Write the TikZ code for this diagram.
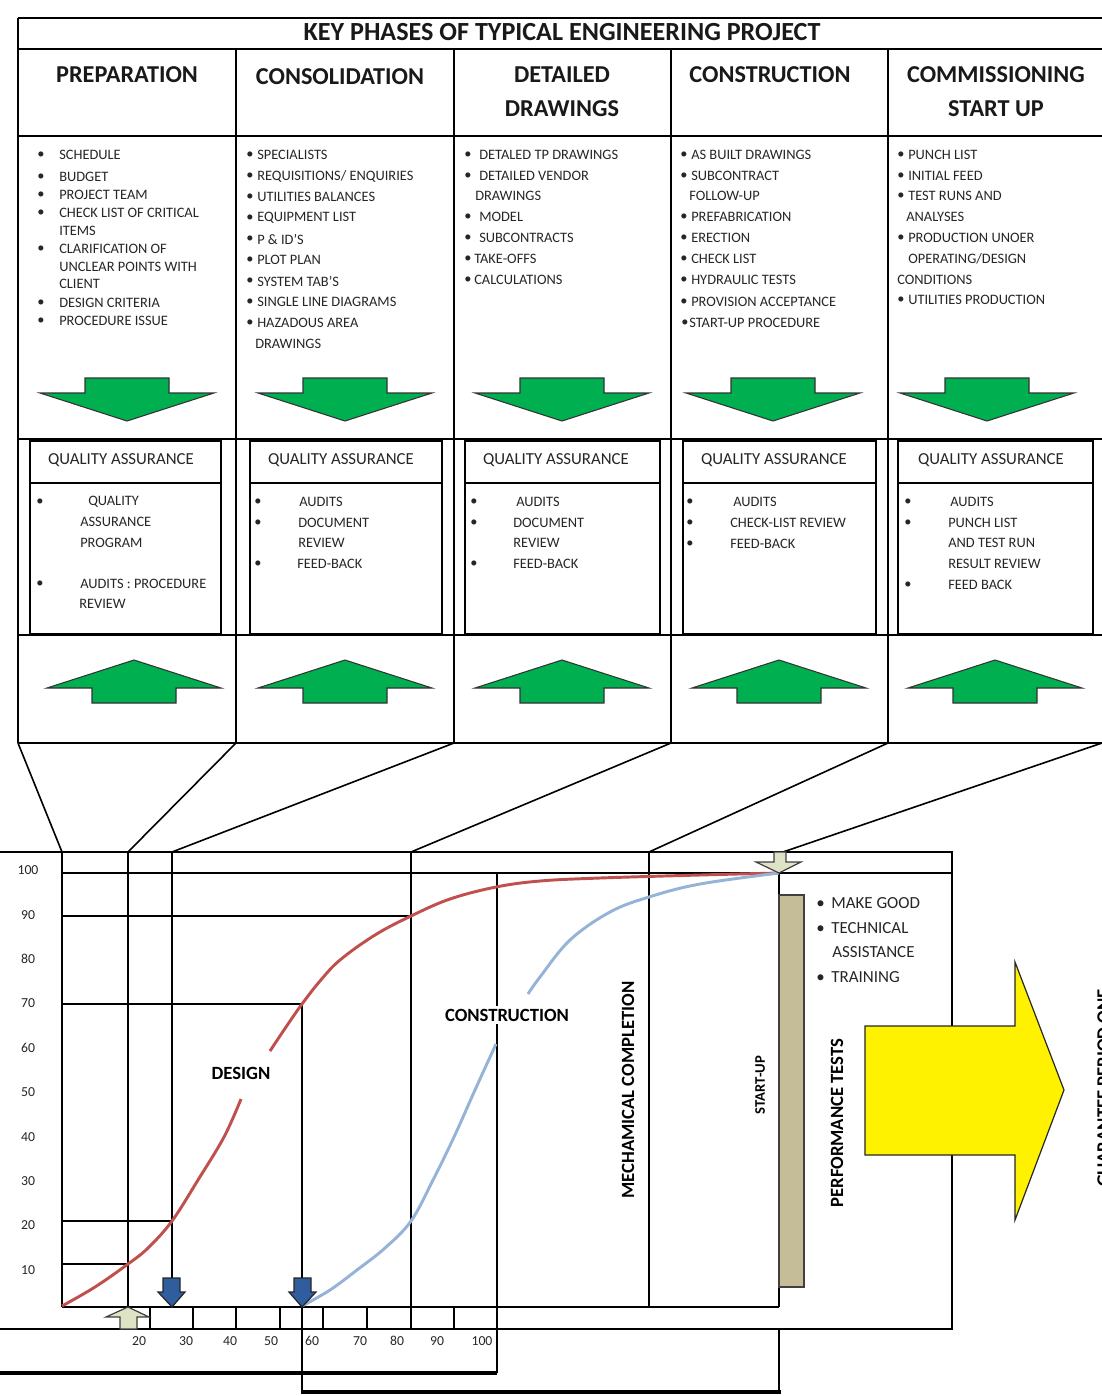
\documentclass[tikz,border=0pt]{standalone}
\usepackage{fontspec}
\setmainfont{Carlito}
\definecolor{arrgreen}{HTML}{00B050}
\definecolor{dred}{HTML}{C0504D}
\definecolor{lblue}{HTML}{95B3D7}
\definecolor{dblue}{HTML}{2F5D9E}
\definecolor{tan}{HTML}{C4BD97}
\definecolor{pale}{HTML}{DDE3C4}
\definecolor{txtc}{HTML}{262626}
\newcommand\fsz[1]{\fontsize{#1}{#1}\selectfont}
\tikzset{
  tl/.style={line width=1.5pt},
  il/.style={line width=1.2pt},
  cl/.style={line width=1pt},
  itm/.style={inner sep=0pt, anchor=west, text=txtc, font=\fsz{10.8}},
  qai/.style={inner sep=0pt, anchor=west, text=txtc, font=\fsz{10.8}},
  hdr/.style={inner sep=0pt, font=\bfseries\fsz{18.2}, text=black!90},
  qat/.style={inner sep=0pt, font=\fsz{12.6}, text=txtc},
  axl/.style={inner sep=0pt, font=\fsz{10.3}, text=txtc},
  vlab/.style={inner sep=0pt, rotate=90, font=\bfseries\fsz{14}},
  garr/.style={fill=arrgreen, draw=black!80, line width=0.8pt, line join=miter},
  barr/.style={fill=dblue, draw=black!85, line width=0.9pt},
  parr/.style={fill=pale, draw=black!75, line width=0.9pt},
  curvered/.style={draw=dred, line width=2.2pt},
  curveblue/.style={draw=lblue, line width=2.2pt},
}
\newcommand\Li[4]{\node[itm] (#1) at (#2,#3) {#4};}
\newcommand\Qi[4]{\node[qai] (#1) at (#2,#3) {#4};}
\newcommand\GDarr[1]{\draw[garr] (#1-42,378) -- (#1+42,378) -- (#1+42,393) -- (#1+87,393) -- (#1,421) -- (#1-87,393) -- (#1-42,393) -- cycle;}
\newcommand\GUarr[1]{\draw[garr] (#1-42,703) -- (#1+42,703) -- (#1+42,688) -- (#1+87,688) -- (#1,660) -- (#1-87,688) -- (#1-42,688) -- cycle;}
\begin{document}
\begin{tikzpicture}[x=0.75pt,y=-0.75pt]
\path[use as bounding box, fill=white] (0,0) rectangle (1102,1396);

% ---------------- table ----------------
\draw[tl] (18,18) -- (1102,18);
\draw[tl] (18,49) -- (1102,49);
\draw[tl] (18,136) -- (1102,136);
\draw[tl] (18,439) -- (1102,439);
\draw[tl] (18,635) -- (1102,635);
\draw[tl] (18,743) -- (1102,743);
\draw[tl] (18,18) -- (18,743);
\foreach \xx in {236,454,671,888} \draw[tl] (\xx,49) -- (\xx,743);

\node[inner sep=0pt, font=\bfseries\fsz{19.6}, text=black!90] (title) at (562,32) {KEY PHASES OF TYPICAL ENGINEERING PROJECT};
\node[hdr] (h1) at (127,75) {PREPARATION};
\node[hdr] (h2) at (340,77) {CONSOLIDATION};
\node[hdr] (h3a) at (562,75) {DETAILED};
\node[hdr] (h3b) at (562,109) {DRAWINGS};
\node[hdr] (h4) at (770,75) {CONSTRUCTION};
\node[hdr] (h5a) at (996,75) {COMMISSIONING};
\node[hdr] (h5b) at (996,109) {START UP};

% column 1
\Li{b11}{37}{155}{\textbullet}\Li{t11}{59}{155}{SCHEDULE}
\Li{b12}{37}{177}{\textbullet}\Li{t12}{59}{177}{BUDGET}
\Li{b13}{37}{195}{\textbullet}\Li{t13}{59}{195}{PROJECT TEAM}
\Li{b14}{37}{213}{\textbullet}\Li{t14}{59}{213}{CHECK LIST OF CRITICAL}
\Li{t14b}{59}{231}{ITEMS}
\Li{b15}{37}{249}{\textbullet}\Li{t15}{59}{249}{CLARIFICATION OF}
\Li{t15b}{59}{267}{UNCLEAR POINTS WITH}
\Li{t15c}{59}{284}{CLIENT}
\Li{b16}{37}{303}{\textbullet}\Li{t16}{59}{303}{DESIGN CRITERIA}
\Li{b17}{37}{321}{\textbullet}\Li{t17}{59}{321}{PROCEDURE ISSUE}
% column 2
\Li{b21}{246}{155}{\textbullet}\Li{t21}{257}{155}{SPECIALISTS}
\Li{b22}{246}{176}{\textbullet}\Li{t22}{257}{176}{REQUISITIONS/ ENQUIRIES}
\Li{b23}{246}{197}{\textbullet}\Li{t23}{257}{197}{UTILITIES BALANCES}
\Li{b24}{246}{218}{\textbullet}\Li{t24}{257}{218}{EQUIPMENT LIST}
\Li{b25}{246}{239}{\textbullet}\Li{t25}{257}{239}{P \& ID’S}
\Li{b26}{246}{260}{\textbullet}\Li{t26}{257}{260}{PLOT PLAN}
\Li{b27}{246}{281}{\textbullet}\Li{t27}{257}{281}{SYSTEM TAB’S}
\Li{b28}{246}{302}{\textbullet}\Li{t28}{257}{302}{SINGLE LINE DIAGRAMS}
\Li{b29}{246}{323}{\textbullet}\Li{t29}{257}{323}{HAZADOUS AREA}
\Li{t29b}{255}{344}{DRAWINGS}
% column 3
\Li{b31}{464}{155}{\textbullet}\Li{t31}{479}{155}{DETALED TP DRAWINGS}
\Li{b32}{464}{176}{\textbullet}\Li{t32}{479}{176}{DETAILED VENDOR}
\Li{t32b}{475}{196}{DRAWINGS}
\Li{b33}{464}{217}{\textbullet}\Li{t33}{479}{217}{MODEL}
\Li{b34}{464}{238}{\textbullet}\Li{t34}{479}{238}{SUBCONTRACTS}
\Li{b35}{464}{259}{\textbullet}\Li{t35}{474}{259}{TAKE-OFFS}
\Li{b36}{464}{280}{\textbullet}\Li{t36}{474}{280}{CALCULATIONS}
% column 4
\Li{b41}{680}{155}{\textbullet}\Li{t41}{691}{155}{AS BUILT DRAWINGS}
\Li{b42}{680}{176}{\textbullet}\Li{t42}{691}{176}{SUBCONTRACT}
\Li{t42b}{689}{196}{FOLLOW-UP}
\Li{b43}{680}{217}{\textbullet}\Li{t43}{691}{217}{PREFABRICATION}
\Li{b44}{680}{238}{\textbullet}\Li{t44}{691}{238}{ERECTION}
\Li{b45}{680}{259}{\textbullet}\Li{t45}{691}{259}{CHECK LIST}
\Li{b46}{680}{280}{\textbullet}\Li{t46}{691}{280}{HYDRAULIC  TESTS}
\Li{b47}{680}{302}{\textbullet}\Li{t47}{691}{302}{PROVISION  ACCEPTANCE}
\Li{b48}{681}{323}{\textbullet}\Li{t48}{689}{323}{START-UP PROCEDURE}
% column 5
\Li{b51}{897}{155}{\textbullet}\Li{t51}{908}{155}{PUNCH LIST}
\Li{b52}{897}{176}{\textbullet}\Li{t52}{908}{176}{INITIAL FEED}
\Li{b53}{897}{196}{\textbullet}\Li{t53}{908}{196}{TEST RUNS AND}
\Li{t53b}{906}{217}{ANALYSES}
\Li{b54}{897}{238}{\textbullet}\Li{t54}{908}{238}{PRODUCTION  UNOER}
\Li{t54b}{908}{259}{OPERATING/DESIGN}
\Li{t54c}{897}{280}{CONDITIONS}
\Li{b55}{897}{300}{\textbullet}\Li{t55}{908}{300}{UTILITIES PRODUCTION}

% green down arrows
\GDarr{127}\GDarr{345}\GDarr{562}\GDarr{773}\GDarr{987}

% QA boxes
\foreach \xa/\xb in {30/221,250/442,465/660,683/876,898/1093}{
  \draw[il] (\xa,441) rectangle (\xb,634);
  \draw[il] (\xa,483) -- (\xb,483);
}
\node[qat] (qa1) at (121,460) {QUALITY ASSURANCE};
\node[qat] (qa2) at (341,460) {QUALITY ASSURANCE};
\node[qat] (qa3) at (556,460) {QUALITY ASSURANCE};
\node[qat] (qa4) at (774,460) {QUALITY ASSURANCE};
\node[qat] (qa5) at (991,460) {QUALITY ASSURANCE};

\Qi{q11}{36}{502}{\textbullet}\Qi{q11t}{88}{502}{QUALITY}
\Qi{q11u}{80}{522}{ASSURANCE}\Qi{q11v}{80}{543}{PROGRAM}
\Qi{q12}{36}{584}{\textbullet}\Qi{q12t}{80}{584}{AUDITS : PROCEDURE}
\Qi{q12u}{79}{604}{REVIEW}

\Qi{q21}{254}{502}{\textbullet}\Qi{q21t}{299}{502}{AUDITS}
\Qi{q22}{254}{523}{\textbullet}\Qi{q22t}{298}{523}{DOCUMENT}
\Qi{q22u}{298}{543}{REVIEW}
\Qi{q23}{254}{564}{\textbullet}\Qi{q23t}{297}{564}{FEED-BACK}

\Qi{q31}{470}{502}{\textbullet}\Qi{q31t}{516}{502}{AUDITS}
\Qi{q32}{470}{523}{\textbullet}\Qi{q32t}{513}{523}{DOCUMENT}
\Qi{q32u}{513}{543}{REVIEW}
\Qi{q33}{470}{564}{\textbullet}\Qi{q33t}{513}{564}{FEED-BACK}

\Qi{q41}{686}{502}{\textbullet}\Qi{q41t}{733}{502}{AUDITS}
\Qi{q42}{686}{523}{\textbullet}\Qi{q42t}{730}{523}{CHECK-LIST REVIEW}
\Qi{q43}{686}{544}{\textbullet}\Qi{q43t}{730}{544}{FEED-BACK}

\Qi{q51}{904}{502}{\textbullet}\Qi{q51t}{950}{502}{AUDITS}
\Qi{q52}{904}{523}{\textbullet}\Qi{q52t}{948}{523}{PUNCH LIST}
\Qi{q52u}{948}{543}{AND TEST RUN}\Qi{q52v}{948}{564}{RESULT REVIEW}
\Qi{q53}{904}{585}{\textbullet}\Qi{q53t}{948}{585}{FEED BACK}

% green up arrows
\GUarr{134}\GUarr{345}\GUarr{562}\GUarr{779}\GUarr{995}

% funnel lines
\coordinate (r0) at (18,743);   \coordinate (s0) at (62,852);
\coordinate (r1) at (236,743);  \coordinate (s1) at (128,852);
\coordinate (r2) at (454,743);  \coordinate (s2) at (172,852);
\coordinate (r3) at (671,743);  \coordinate (s3) at (411,852);
\coordinate (r4) at (888,743);  \coordinate (s4) at (649,852);
\coordinate (r5) at (1102,743); \coordinate (s5) at (783,852);
\foreach \i in {0,...,5} \draw[il] (r\i) -- (s\i);

% ---------------- chart ----------------
\draw[cl] (0,852) -- (952,852) -- (952,1329) -- (0,1329);
\draw[cl] (62,873) -- (952,873);
\draw[cl] (62,916) -- (411,916);
\draw[cl] (62,1004) -- (302,1004);
\draw[cl] (62,1221) -- (172,1221);
\draw[cl] (62,1264) -- (128,1264);
\draw[cl] (62,1307) -- (779,1307);
\draw[cl] (62,852) -- (62,1307);
\draw[cl] (128,852) -- (128,1307);
\draw[cl] (172,852) -- (172,1280);
\draw[cl] (302,1004) -- (302,1280);
\draw[cl] (302,1307) -- (302,1394);
\draw[cl] (411,852) -- (411,1329);
\draw[cl] (497,873) -- (497,1373);
\draw[cl] (649,852) -- (649,1307);
\draw[cl] (779,873) -- (779,1307);
\draw[cl] (779,1329) -- (779,1392);
\foreach \xx in {150,193,236,280,323,367,454} \draw[cl] (\xx,1307) -- (\xx,1329);
\draw[line width=3.5pt] (0,1373) -- (497,1373);
\draw[line width=3.5pt] (302,1392) -- (781,1392);

% y labels
\foreach \v/\yy in {100/870,90/915,80/959,70/1003,60/1048,50/1092,40/1137,30/1181,20/1225,10/1270}
  \node[axl] (y\v) at (28,\yy) {\v};
% x labels
\foreach \v/\xx in {20/139,30/186,40/230,50/271,60/312,70/360,80/397,90/437,100/482}
  \node[axl] (x\v) at (\xx,1341) {\v};

% curves
\draw[curvered] plot[smooth, tension=0.6] coordinates {(62,1306) (95,1287) (128,1264) (148,1248) (172,1221) (198,1180) (224,1137) (241,1099)};
\draw[curvered] plot[smooth, tension=0.6] coordinates {(270,1051) (286,1027) (302,1004) (320,981) (340,960) (375,935) (411,916) (450,899) (496,887) (540,881) (600,878) (700,875) (779,873)};
\draw[curveblue] plot[smooth, tension=0.6] coordinates {(302,1306) (330,1290) (357,1270) (385,1248) (411,1221) (433,1180) (454,1137) (475,1090) (496,1044)};
\draw[curveblue] plot[smooth, tension=0.6] coordinates {(528,994) (540,977) (570,940) (610,912) (649,897) (700,884) (779,873)};

\node[inner sep=0pt, font=\bfseries\fsz{14}] (design) at (241,1073) {DESIGN};
\node[inner sep=2pt, fill=white, font=\bfseries\fsz{14}] (constr) at (507,1015) {CONSTRUCTION};

% arrows on axis
\draw[barr] (163,1278) -- (180,1278) -- (180,1292) -- (185,1292) -- (172,1307) -- (158,1292) -- (163,1292) -- cycle;
\draw[barr] (294,1278) -- (311,1278) -- (311,1292) -- (316,1292) -- (302,1307) -- (289,1292) -- (294,1292) -- cycle;
\draw[parr] (120,1329) -- (137,1329) -- (137,1317) -- (149,1317) -- (128,1307) -- (106,1317) -- (120,1317) -- cycle;
\draw[parr] (774,852) -- (786,852) -- (786,862) -- (801,862) -- (779,873) -- (756,862) -- (774,862) -- cycle;

% start-up bar
\draw[fill=tan, draw=black!75, line width=0.9pt] (779,895) rectangle (804,1287);

% right bullets
\node[inner sep=0pt, anchor=west, font=\fsz{12.7}, text=txtc] (mg) at (816,903) {\textbullet\hspace{5pt}MAKE GOOD};
\node[inner sep=0pt, anchor=west, font=\fsz{12.7}, text=txtc] (ta) at (816,928) {\textbullet\hspace{5pt}TECHNICAL};
\node[inner sep=0pt, anchor=west, font=\fsz{12.7}, text=txtc] (ta2) at (832,952) {ASSISTANCE};
\node[inner sep=0pt, anchor=west, font=\fsz{12.7}, text=txtc] (tr) at (816,977) {\textbullet\hspace{5pt}TRAINING};

% vertical labels
\node[vlab] (mech) at (628,1090) {MECHAMICAL COMPLETION};
\node[vlab, font=\bfseries\fsz{11}] (start) at (760,1085) {START-UP};
\node[vlab] (perf) at (837,1123) {PERFORMANCE TESTS};

% yellow arrow
\draw[fill=yellow, draw=black!85, line width=0.9pt] (865,1026) -- (1015,1026) -- (1015,962) -- (1064,1090) -- (1015,1220) -- (1015,1155) -- (865,1155) -- cycle;

\begin{scope}
\clip (0,0) rectangle (1102,1396);
\node[vlab, anchor=north] (guar) at (1097,1088) {GUARANTEE PERIOD ONE};
\end{scope}
\end{tikzpicture}
\end{document}
